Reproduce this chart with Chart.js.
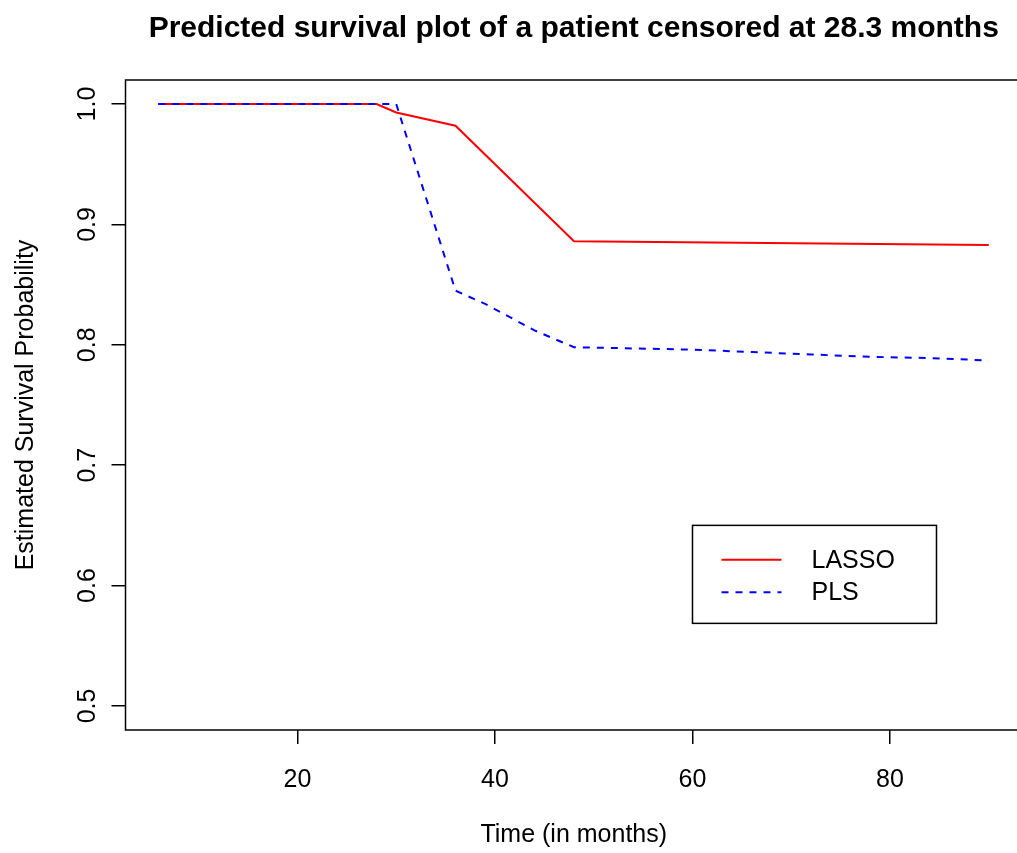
<!DOCTYPE html>
<html>
<head>
<meta charset="utf-8">
<script src="https://cdn.jsdelivr.net/npm/chart.js@4"></script>
<style>
  html, body { margin: 0; padding: 0; background: #fff; overflow: hidden; }
  #wrap { width: 1030px; height: 853px; }
</style>
</head>
<body>
<div id="wrap"><canvas id="survChart" width="1030" height="853"></canvas></div>
<script>
// Predicted survival curves, one per model
var lassoTime = [5.9, 28, 30, 36, 48, 90];
var lassoSurv = [1.0, 1.0, 0.993, 0.982, 0.886, 0.883];

var plsTime = [5.9, 30, 36, 39, 44, 48, 54, 60, 66, 72, 78, 84, 90];
var plsSurv = [1.0, 1.0, 0.845, 0.834, 0.812, 0.798, 0.797, 0.796, 0.794, 0.792, 0.790, 0.789, 0.787];

var xTicks = [20, 40, 60, 80];
var yTicks = [0.5, 0.6, 0.7, 0.8, 0.9, 1.0];

var seriesNames = ['LASSO', 'PLS'];
var titleText = 'Predicted survival plot of a patient censored at 28.3 months';
var xTitle = 'Time (in months)';
var yTitle = 'Estimated Survival Probability';

var FONT = '"Liberation Sans", Arial, Helvetica, sans-serif';

function toPoints(xs, ys) {
    return xs.map(function(x, i) { return { x: x, y: ys[i] }; });
}

// frame, tick labels, titles and legend drawn R-style on top of the chart
var basePlotDecor = {
    id: 'basePlotDecor',
    afterDraw: function(chart) {
        var ctx = chart.ctx;
        var area = chart.chartArea;
        var xs = chart.scales.x;
        var ys = chart.scales.y;

        ctx.save();
        ctx.strokeStyle = '#000';
        ctx.lineWidth = 1.5;
        ctx.strokeRect(area.left, area.top, area.right - area.left, area.bottom - area.top);

        ctx.fillStyle = '#000';
        ctx.textBaseline = 'alphabetic';

        // title
        ctx.font = 'bold 30px ' + FONT;
        ctx.textAlign = 'center';
        ctx.fillText(titleText, (area.left + area.right) / 2, 37);

        // x tick labels
        ctx.font = '25px ' + FONT;
        xTicks.forEach(function(v) {
            ctx.fillText(String(v), xs.getPixelForValue(v), 787);
        });
        ctx.fillText(xTitle, (area.left + area.right) / 2, 842);

        // y tick labels, rotated
        yTicks.forEach(function(v) {
            ctx.save();
            ctx.translate(95, ys.getPixelForValue(v));
            ctx.rotate(-Math.PI / 2);
            ctx.fillText(v.toFixed(1), 0, 0);
            ctx.restore();
        });
        ctx.save();
        ctx.translate(32.5, (area.top + area.bottom) / 2);
        ctx.rotate(-Math.PI / 2);
        ctx.fillText(yTitle, 0, 0);
        ctx.restore();

        // legend box anchored at (60, 0.65)
        var bx = xs.getPixelForValue(60);
        var by = ys.getPixelForValue(0.65);
        ctx.lineWidth = 1.5;
        ctx.strokeRect(bx, by, 244, 98);
        chart.data.datasets.forEach(function(ds, i) {
            var ly = by + 34.5 + i * 32.4;
            ctx.save();
            ctx.strokeStyle = ds.borderColor;
            ctx.lineWidth = ds.borderWidth;
            ctx.setLineDash(ds.borderDash || []);
            ctx.beginPath();
            ctx.moveTo(bx + 29, ly);
            ctx.lineTo(bx + 89, ly);
            ctx.stroke();
            ctx.restore();
            ctx.textAlign = 'left';
            ctx.textBaseline = 'middle';
            ctx.fillText(ds.label, bx + 119, ly + 1);
        });
        ctx.restore();
    }
};

var ctx = document.getElementById('survChart').getContext('2d');
var survChart = new Chart(ctx, {
    type: 'line',
    data: {
        datasets: [{
            label: seriesNames[0],
            data: toPoints(lassoTime, lassoSurv),
            borderColor: '#ff0000',
            borderWidth: 2,
            pointRadius: 0,
            tension: 0,
            order: 1
        }, {
            label: seriesNames[1],
            data: toPoints(plsTime, plsSurv),
            borderColor: '#0000ff',
            borderWidth: 2,
            borderDash: [7, 7],
            pointRadius: 0,
            tension: 0,
            order: 0
        }]
    },
    options: {
        responsive: false,
        animation: false,
        layout: { padding: { top: 80, right: 8, bottom: 0, left: 0 } },
        plugins: {
            legend: { display: false },
            title: { display: false },
            tooltip: { enabled: false }
        },
        scales: {
            x: {
                type: 'linear',
                min: 2.58,
                max: 93.37,
                afterBuildTicks: function(scale) {
                    scale.ticks = xTicks.map(function(v) { return { value: v }; });
                },
                afterFit: function(scale) { scale.height = 123; },
                ticks: { display: false },
                border: { display: false },
                grid: {
                    drawOnChartArea: false,
                    drawTicks: true,
                    tickLength: 14,
                    color: '#000',
                    lineWidth: 1.5
                }
            },
            y: {
                type: 'linear',
                min: 0.48,
                max: 1.02,
                afterBuildTicks: function(scale) {
                    scale.ticks = yTicks.map(function(v) { return { value: v }; });
                },
                afterFit: function(scale) { scale.width = 125.5; },
                ticks: { display: false },
                border: { display: false },
                grid: {
                    drawOnChartArea: false,
                    drawTicks: true,
                    tickLength: 14,
                    color: '#000',
                    lineWidth: 1.5
                }
            }
        }
    },
    plugins: [basePlotDecor]
});
</script>
</body>
</html>
